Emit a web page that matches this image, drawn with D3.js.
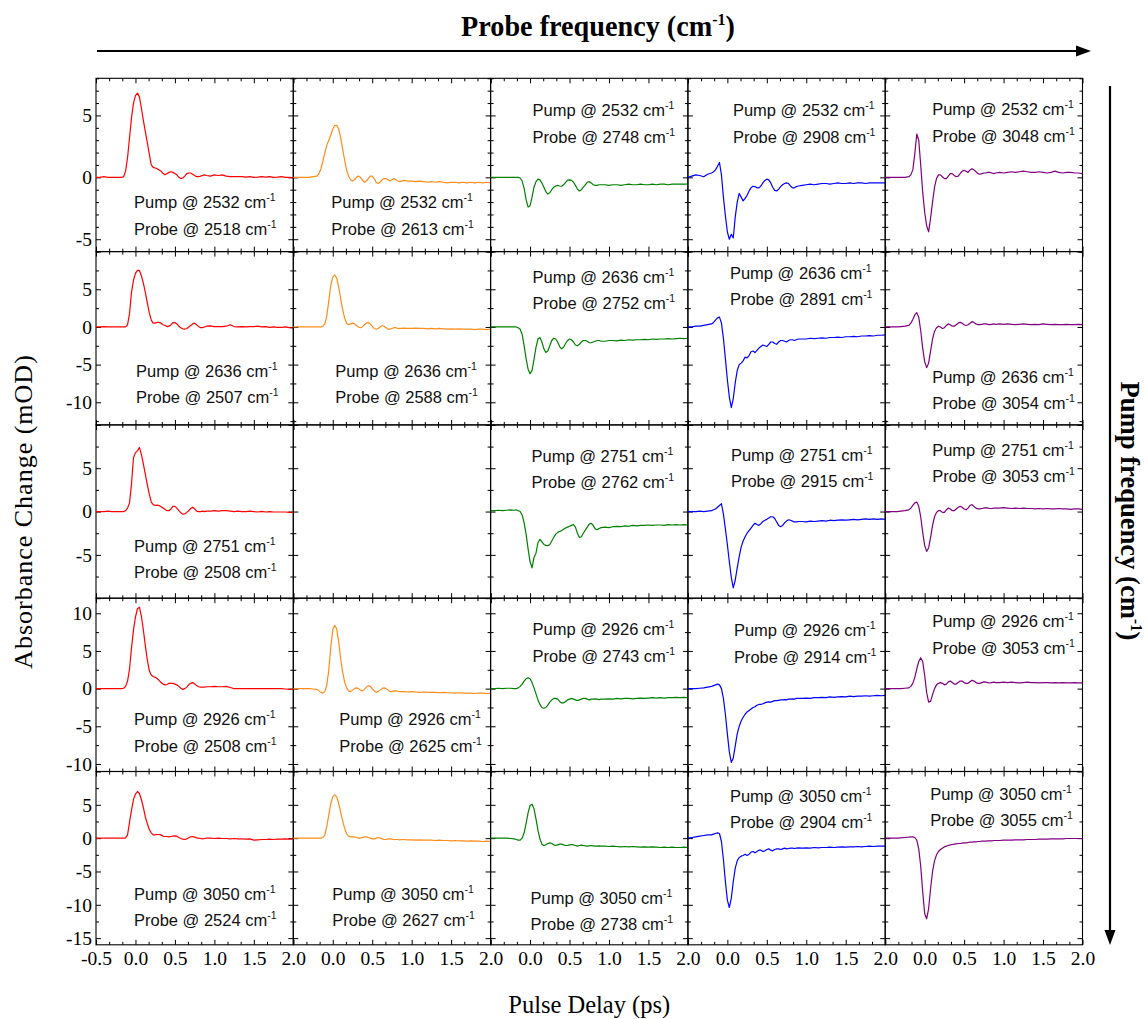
<!DOCTYPE html>
<html>
<head>
<meta charset="utf-8">
<script src="https://cdn.jsdelivr.net/npm/d3@7"></script>
<style>
  html, body { margin: 0; padding: 0; background: #fff; }
  svg { display: block; }
</style>
</head>
<body>
<svg id="chart" width="1148" height="1019"></svg>
<script>
// Pump-probe delay grid (ps), shared by every trace
const delays = [
  -0.5, -0.45, -0.4, -0.35, -0.3, -0.25,
  -0.2, -0.175, -0.15, -0.125, -0.1, -0.075, -0.05, -0.025, 0, 0.025,
  0.05, 0.075, 0.1, 0.125, 0.15, 0.175, 0.2, 0.225, 0.25, 0.275,
  0.3, 0.325, 0.35, 0.375, 0.4, 0.425, 0.45, 0.475, 0.5, 0.525,
  0.55, 0.575, 0.6, 0.625, 0.65, 0.675, 0.7, 0.725, 0.75, 0.775,
  0.8, 0.825, 0.85, 0.875, 0.9,
  0.95, 1, 1.05, 1.1, 1.15, 1.2, 1.25, 1.3, 1.35, 1.4, 1.45,
  1.5, 1.55, 1.6, 1.65, 1.7, 1.75, 1.8, 1.85, 1.9, 1.95, 2
];

// Pump frequency per row, probe frequency per row/column (cm-1)
const pumpFreqs = [2532, 2636, 2751, 2926, 3050];
const probeFreqs = [
  [2518, 2613, 2748, 2908, 3048],
  [2507, 2588, 2752, 2891, 3054],
  [2508, null, 2762, 2915, 3053],
  [2508, 2625, 2743, 2914, 3053],
  [2524, 2627, 2738, 2904, 3055]
];

// Absorbance-change axis extent per row (mOD)
const rowDomains = [[-6, 8], [-13, 10], [-10, 10], [-11, 12], [-16, 10]];
const rowMinorStep = [1, 2.5, 2.5, 2.5, 2.5];
const xTickValues = [-0.5, 0, 0.5, 1, 1.5, 2];

// Absorbance change (mOD) at each delay
const r1c1 = [0, 0, 0.05, 0, 0, 0,
  0, 0, 0.05, 0.5, 1.6, 3.2, 4.8, 6.0, 6.6, 6.8, 6.5, 5.6, 4.6, 3.7, 2.8,
  1.9, 1.0, 0.8, 0.75, 0.7, 0.6, 0.5, 0.3, 0.2, 0.3, 0.4, 0.45, 0.4, 0.3, 0.2,
  0, -0.1, -0.05, 0.1, 0.3, 0.35, 0.35, 0.25, 0.15, 0.05, 0.05, 0.1, 0.15, 0.2, 0.15,
  0.1, 0.2, 0.15, 0.2, 0.1, 0.05, 0.05, 0.05, 0.05, 0.02, 0.05, 0, 0.02, 0.05, 0.02, 0.05, 0, 0.02, 0.05, 0, 0, -0.05];
const r2c1 = [0, 0, 0.05, 0, 0, 0,
  0, 0, 0, 0, 0.3, 1.8, 4.6, 6.2, 7.1, 7.5, 7.5, 6.8, 5.8, 4.6, 3.2,
  1.9, 0.9, 0.5, 0.5, 0.6, 0.6, 0.5, 0.3, 0.2, 0.05, 0.1, 0.3, 0.55, 0.6, 0.4,
  0.1, -0.1, -0.25, -0.3, -0.2, 0, 0.2, 0.4, 0.5, 0.3, 0.05, -0.1, -0.1, 0, 0.1,
  0.15, 0.05, 0.05, 0.05, 0.1, 0.3, 0.05, 0, 0.05, 0, 0.05, 0.05, 0.1, 0, 0.05, -0.05, 0, -0.05, -0.05, 0, -0.1, -0.15];
const r3c1 = [0, 0, 0, 0.05, 0, 0,
  0, 0, 0, 0.1, 0.4, 1.0, 3.2, 6.2, 6.8, 7.0, 7.4, 6.6, 5.5, 4.3, 3.1,
  2.0, 1.1, 0.8, 0.7, 0.75, 0.7, 0.55, 0.4, 0.25, 0.1, 0.1, 0.3, 0.6, 0.6, 0.4,
  0.1, -0.15, -0.3, -0.25, -0.1, 0.1, 0.35, 0.5, 0.3, 0.05, 0, 0, 0.05, 0, 0.05,
  0.05, 0.1, 0.05, 0.1, 0.1, 0.05, 0, 0.05, 0, 0, 0.05, 0, -0.05, 0.02, -0.05, 0, -0.05, -0.05, -0.05, -0.05, -0.1, -0.1];
const r4c1 = [0, 0, 0, 0, 0, 0,
  0, 0, 0.05, 0.3, 1.0, 2.6, 5.4, 7.8, 9.5, 10.6, 10.8, 9.6, 7.8, 5.7, 3.8,
  2.4, 1.8, 1.6, 1.5, 1.35, 1.1, 0.8, 0.6, 0.5, 0.55, 0.7, 0.7, 0.7, 0.6, 0.5,
  0.3, 0.05, -0.1, 0, 0.2, 0.5, 0.7, 0.8, 0.6, 0.4, 0.25, 0.2, 0.2, 0.2, 0.25,
  0.25, 0.3, 0.25, 0.25, 0.3, 0.15, 0, 0, 0, 0, 0, 0, 0, 0, 0, 0, 0, 0, 0, -0.05, -0.1, -0.1];
const r5c1 = [0, 0, 0, 0, 0, 0,
  0, 0, 0, 0.05, 0.5, 2.4, 4.2, 5.8, 6.6, 7.0, 6.7, 5.8, 4.6, 3.2, 2.2,
  1.3, 0.8, 0.5, 0.5, 0.55, 0.55, 0.45, 0.3, 0.25, 0.25, 0.2, 0.25, 0.3, 0.35, 0.3,
  0.1, -0.05, -0.15, -0.2, -0.1, 0.05, 0.2, 0.25, 0.15, 0.05, 0, -0.05, -0.1, -0.05, 0,
  0, -0.05, 0, -0.05, -0.05, -0.1, -0.05, -0.1, -0.1, -0.15, -0.1, -0.3, -0.25, -0.2, -0.2, -0.15, -0.2, -0.15, -0.15, -0.1, -0.15, -0.1];

const r1c2 = [0, 0, 0, 0, 0, 0.05,
  0.1, 0.3, 0.7, 1.3, 2.0, 2.6, 3.0, 3.4, 3.9, 4.2, 4.2, 3.9, 3.2, 2.3, 1.4,
  0.6, 0.1, -0.2, -0.3, -0.2, 0, 0.1, 0, -0.2, -0.4, -0.3, -0.1, 0.1, 0.1, -0.1,
  -0.4, -0.5, -0.4, -0.2, -0.1, -0.1, -0.2, -0.3, -0.2, -0.1, -0.2, -0.3, -0.35, -0.3, -0.25,
  -0.3, -0.3, -0.35, -0.3, -0.35, -0.4, -0.35, -0.4, -0.35, -0.4, -0.45, -0.4, -0.4, -0.45, -0.4, -0.45, -0.4, -0.45, -0.4, -0.45, -0.4, -0.45];
const r2c2 = [0, 0, 0, 0, 0, 0,
  0, 0, 0, 0.1, 0.4, 1.5, 3.5, 5.5, 6.6, 6.9, 6.5, 5.3, 3.8, 2.3, 1.2,
  0.5, 0.3, 0.4, 0.5, 0.4, 0.2, 0, -0.1, 0, 0.3, 0.5, 0.6, 0.4, 0.1, -0.2,
  -0.3, -0.2, 0, 0.2, 0.1, -0.1, -0.3, -0.3, -0.2, -0.1, -0.1, -0.2, -0.2, -0.2, -0.15,
  -0.2, -0.2, -0.15, -0.2, -0.2, -0.25, -0.2, -0.25, -0.2, -0.25, -0.3, -0.25, -0.3, -0.25, -0.3, -0.3, -0.3, -0.35, -0.3, -0.3, -0.35, -0.3];
const r4c2 = [0, 0, 0, 0, 0, -0.05,
  -0.1, -0.3, -0.5, -0.6, -0.4, 0.5, 2.5, 5.5, 7.8, 8.4, 7.9, 6.2, 4.0, 2.2, 0.9,
  0.1, -0.3, -0.4, -0.2, 0, 0.1, 0, -0.2, -0.3, -0.1, 0.2, 0.4, 0.3, 0, -0.3,
  -0.5, -0.4, -0.2, 0, 0.1, 0, -0.2, -0.4, -0.4, -0.3, -0.3, -0.35, -0.4, -0.4, -0.4,
  -0.45, -0.4, -0.45, -0.5, -0.45, -0.5, -0.5, -0.5, -0.55, -0.5, -0.55, -0.55, -0.6, -0.55, -0.6, -0.6, -0.6, -0.65, -0.6, -0.6, -0.65, -0.6];
const r5c2 = [0, 0, 0, 0, 0, 0,
  0, 0, 0, 0.1, 0.5, 1.8, 3.5, 5.2, 6.2, 6.5, 6.2, 5.2, 3.9, 2.6, 1.5,
  0.7, 0.3, 0.2, 0.2, 0.2, 0.1, 0, 0, 0.1, 0.2, 0.2, 0.1, 0, -0.1, -0.1,
  0, 0.1, 0, -0.1, -0.2, -0.2, -0.1, -0.1, -0.15, -0.2, -0.2, -0.2, -0.25, -0.2, -0.2,
  -0.25, -0.25, -0.3, -0.25, -0.3, -0.3, -0.3, -0.35, -0.3, -0.35, -0.35, -0.4, -0.35, -0.4, -0.4, -0.45, -0.4, -0.45, -0.45, -0.5, -0.45, -0.5];

const r1c3 = [0, 0, 0, 0, 0, 0,
  0, 0, 0, -0.05, -0.3, -0.9, -1.8, -2.4, -2.3, -1.6, -0.8, -0.35, -0.15, -0.2, -0.45,
  -0.8, -1.15, -1.35, -1.25, -1.0, -0.8, -0.7, -0.65, -0.7, -0.72, -0.6, -0.4, -0.22, -0.2, -0.25,
  -0.4, -0.65, -0.95, -1.1, -1.0, -0.8, -0.6, -0.4, -0.35, -0.45, -0.6, -0.65, -0.65, -0.6, -0.6,
  -0.6, -0.65, -0.6, -0.6, -0.65, -0.6, -0.55, -0.6, -0.6, -0.55, -0.6, -0.6, -0.55, -0.6, -0.55, -0.55, -0.6, -0.55, -0.55, -0.55, -0.55, -0.55];
const r2c3 = [0, 0, 0, 0, 0, 0,
  0, 0, -0.1, -0.3, -1.0, -2.5, -4.2, -5.6, -6.2, -5.8, -4.3, -2.7, -1.6, -1.4, -2.0,
  -2.9, -3.4, -3.2, -2.5, -1.8, -1.5, -1.6, -2.0, -2.6, -2.9, -2.7, -2.2, -1.8, -1.6, -1.7,
  -2.0, -2.4, -2.5, -2.3, -2.0, -1.8, -1.8, -1.9, -2.1, -2.1, -2.0, -1.9, -1.8, -1.8, -1.9,
  -1.9, -1.8, -1.8, -1.85, -1.75, -1.8, -1.7, -1.75, -1.7, -1.7, -1.65, -1.7, -1.6, -1.65, -1.6, -1.6, -1.55, -1.6, -1.55, -1.5, -1.55, -1.5];
const r3c3 = [0.1, 0.1, 0.15, 0.1, 0.15, 0.2,
  0.15, 0.2, 0.1, 0, -0.4, -1.3, -2.6, -4.3, -5.8, -6.5, -5.3, -4.8, -3.6, -3.2, -3.5,
  -3.8, -3.9, -3.95, -3.8, -3.4, -3.0, -2.6, -2.4, -2.3, -2.2, -2.05, -1.9, -1.8, -1.7, -1.6,
  -1.5, -1.8, -2.5, -3.0, -2.9, -2.5, -2.15, -1.8, -1.45, -1.35, -1.6, -2.0, -2.1, -1.95, -1.85,
  -1.8, -1.85, -1.75, -1.7, -1.75, -1.65, -1.7, -1.6, -1.65, -1.6, -1.6, -1.55, -1.6, -1.55, -1.55, -1.6, -1.5, -1.55, -1.5, -1.55, -1.5, -1.55];
const r4c3 = [0, 0, 0.05, 0, 0.05, 0.05,
  0, 0, 0.1, 0.3, 0.6, 1.0, 1.3, 1.45, 1.3, 0.8, 0.1, -0.7, -1.5, -2.1, -2.5,
  -2.6, -2.5, -2.2, -1.8, -1.5, -1.3, -1.3, -1.4, -1.7, -1.9, -1.9, -1.7, -1.5, -1.4, -1.3,
  -1.4, -1.5, -1.6, -1.5, -1.4, -1.3, -1.3, -1.4, -1.5, -1.4, -1.4, -1.35, -1.4, -1.45, -1.4,
  -1.4, -1.35, -1.4, -1.3, -1.35, -1.3, -1.3, -1.35, -1.3, -1.25, -1.3, -1.25, -1.2, -1.25, -1.2, -1.25, -1.2, -1.2, -1.15, -1.2, -1.15, -1.2];
const r5c3 = [0, 0, 0, 0, 0, -0.05,
  -0.1, -0.2, -0.3, -0.3, 0, 0.8, 2.2, 3.8, 4.9, 5.1, 4.4, 2.9, 1.2, -0.1, -0.9,
  -1.1, -1.0, -0.8, -0.7, -0.8, -1.0, -1.1, -1.0, -0.9, -0.9, -1.0, -1.1, -1.1, -1.0, -0.95,
  -1.0, -1.1, -1.2, -1.1, -1.05, -1.1, -1.15, -1.2, -1.15, -1.1, -1.15, -1.2, -1.2, -1.15, -1.2,
  -1.2, -1.25, -1.2, -1.25, -1.3, -1.25, -1.3, -1.25, -1.3, -1.35, -1.3, -1.35, -1.3, -1.35, -1.4, -1.35, -1.4, -1.35, -1.4, -1.4, -1.35, -1.4];

const r1c4 = [0, 0.1, 0.2, 0.15, 0.05, 0.25,
  0.35, 0.45, 0.6, 0.9, 1.2, 0.2, -1.6, -3.1, -4.4, -5.0, -4.6, -4.9, -3.2, -2.0, -1.3,
  -1.6, -1.9, -1.7, -1.45, -1.1, -0.85, -0.72, -0.75, -0.85, -0.85, -0.7, -0.45, -0.25, -0.15, -0.2,
  -0.45, -0.8, -1.05, -1.1, -0.95, -0.75, -0.6, -0.5, -0.45, -0.5, -0.7, -0.85, -0.85, -0.75, -0.7,
  -0.65, -0.6, -0.55, -0.6, -0.55, -0.5, -0.5, -0.55, -0.5, -0.45, -0.5, -0.5, -0.45, -0.5, -0.45, -0.45, -0.5, -0.45, -0.45, -0.45, -0.45, -0.45];
const r2c4 = [0, 0, 0.1, 0.1, 0.2, 0.3,
  0.4, 0.6, 0.9, 1.2, 1.3, 0.5, -1.5, -4.2, -7.0, -9.3, -10.7, -9.5, -7.4, -5.8, -5.0,
  -4.8, -4.5, -4.0, -4.1, -3.8, -3.3, -3.2, -3.4, -3.1, -2.8, -2.6, -2.4, -2.5, -2.6, -2.3,
  -2.0, -2.0, -2.2, -2.3, -2.0, -1.8, -1.8, -1.9, -2.0, -1.8, -1.7, -1.7, -1.8, -1.7, -1.6,
  -1.6, -1.6, -1.5, -1.55, -1.5, -1.45, -1.5, -1.4, -1.4, -1.35, -1.4, -1.3, -1.3, -1.25, -1.3, -1.2, -1.2, -1.15, -1.2, -1.1, -1.1, -1.05];
const r3c4 = [0, 0, 0, 0.05, 0, 0.05,
  0.1, 0.2, 0.3, 0.5, 0.7, 0.9, -0.3, -2.0, -3.8, -5.8, -7.6, -8.8, -7.9, -6.5, -5.2,
  -4.1, -3.4, -2.9, -2.5, -2.2, -1.9, -1.6, -1.35, -1.5, -1.6, -1.4, -1.15, -1.0, -0.9, -0.75,
  -0.6, -0.6, -0.8, -1.2, -1.6, -1.75, -1.6, -1.3, -1.1, -0.95, -1.0, -1.1, -1.2, -1.2, -1.15,
  -1.15, -1.2, -1.1, -1.15, -1.1, -1.05, -1.1, -1.0, -1.05, -1.0, -0.95, -1.0, -0.95, -0.9, -0.95, -0.9, -0.85, -0.9, -0.85, -0.9, -0.85, -0.9];
const r4c4 = [0, 0, 0, 0.05, 0.1, 0.2,
  0.3, 0.4, 0.5, 0.6, 0.5, 0, -1.3, -3.4, -6.0, -8.4, -9.8, -9.2, -7.6, -6.0, -5.0,
  -4.3, -3.8, -3.4, -3.1, -2.9, -2.7, -2.5, -2.4, -2.2, -2.1, -2.1, -2.0, -1.9, -1.8, -1.75,
  -1.8, -1.7, -1.6, -1.6, -1.55, -1.5, -1.5, -1.45, -1.5, -1.4, -1.4, -1.35, -1.4, -1.3, -1.3,
  -1.3, -1.25, -1.3, -1.2, -1.2, -1.15, -1.2, -1.1, -1.15, -1.1, -1.05, -1.1, -1.0, -1.05, -1.0, -1.0, -0.95, -1.0, -0.95, -0.9, -0.95, -0.9];
const r5c4 = [0, 0.1, 0.2, 0.3, 0.4, 0.5,
  0.5, 0.6, 0.7, 0.8, 0.7, -0.5, -3.2, -6.5, -9.3, -10.4, -9.0, -6.5, -4.5, -3.4, -2.9,
  -2.7, -2.6, -2.4, -2.6, -2.4, -2.1, -2.0, -2.2, -2.0, -1.8, -1.8, -2.0, -1.9, -1.7, -1.6,
  -1.8, -1.9, -1.7, -1.6, -1.6, -1.7, -1.6, -1.5, -1.6, -1.55, -1.5, -1.5, -1.55, -1.5, -1.45,
  -1.5, -1.45, -1.5, -1.4, -1.45, -1.4, -1.4, -1.35, -1.4, -1.35, -1.3, -1.35, -1.3, -1.3, -1.25, -1.3, -1.25, -1.2, -1.25, -1.2, -1.2, -1.2];

const r1c5 = [0, 0, 0, 0, 0, 0,
  0.05, 0.2, 0.6, 1.9, 3.5, 3.0, 1.0, -1.2, -2.8, -3.9, -4.4, -3.3, -2.0, -0.8, -0.1,
  0.2, 0.2, 0.05, -0.1, -0.1, 0.1, 0.3, 0.3, 0.15, 0.05, 0.1, 0.3, 0.5, 0.55, 0.5,
  0.4, 0.6, 0.7, 0.6, 0.45, 0.3, 0.25, 0.3, 0.35, 0.35, 0.4, 0.4, 0.35, 0.3, 0.35,
  0.4, 0.35, 0.4, 0.45, 0.4, 0.45, 0.5, 0.45, 0.4, 0.4, 0.45, 0.4, 0.35, 0.4, 0.5, 0.4, 0.35, 0.4, 0.4, 0.35, 0.35, 0.3];
const r2c5 = [0, 0, 0, 0, 0.05, 0.1,
  0.2, 0.5, 1.0, 1.6, 1.9, 1.3, -0.5, -2.8, -4.6, -5.4, -4.8, -3.2, -1.6, -0.6, -0.1,
  0.1, 0, -0.2, -0.1, 0.2, 0.4, 0.3, 0.1, 0.1, 0.3, 0.5, 0.6, 0.5, 0.3, 0.2,
  0.3, 0.5, 0.7, 0.6, 0.4, 0.3, 0.3, 0.35, 0.4, 0.4, 0.35, 0.3, 0.35, 0.4, 0.35,
  0.4, 0.35, 0.4, 0.35, 0.3, 0.35, 0.4, 0.35, 0.3, 0.35, 0.3, 0.4, 0.35, 0.3, 0.35, 0.3, 0.3, 0.35, 0.3, 0.3, 0.35, 0.3];
const r3c5 = [0, 0, 0, 0, 0.05, 0.1,
  0.2, 0.4, 0.7, 1.0, 1.1, 0.6, -0.6, -2.4, -3.9, -4.6, -4.2, -3.0, -1.6, -0.6, -0.1,
  0.1, 0.1, -0.1, -0.1, 0.2, 0.4, 0.3, 0.1, 0.1, 0.3, 0.5, 0.6, 0.5, 0.3, 0.2,
  0.4, 0.7, 0.8, 0.6, 0.4, 0.3, 0.3, 0.35, 0.4, 0.45, 0.4, 0.35, 0.35, 0.4, 0.4,
  0.4, 0.45, 0.4, 0.35, 0.4, 0.35, 0.4, 0.35, 0.35, 0.3, 0.35, 0.3, 0.35, 0.3, 0.3, 0.35, 0.3, 0.3, 0.25, 0.3, 0.3, 0.25];
const r4c5 = [0, 0, 0, 0, 0, 0.05,
  0.1, 0.3, 0.7, 1.5, 2.6, 3.6, 4.1, 3.6, 1.8, -0.5, -1.8, -1.7, -0.8, 0, 0.5,
  0.7, 0.8, 0.7, 0.5, 0.6, 0.9, 1.0, 0.8, 0.6, 0.6, 0.8, 1.0, 1.0, 0.8, 0.7,
  0.7, 0.9, 1.1, 1.0, 0.8, 0.7, 0.7, 0.8, 0.9, 0.85, 0.8, 0.75, 0.8, 0.85, 0.8,
  0.8, 0.85, 0.8, 0.85, 0.8, 0.75, 0.8, 0.85, 0.8, 0.8, 0.75, 0.8, 0.8, 0.75, 0.8, 0.75, 0.8, 0.75, 0.75, 0.8, 0.75, 0.75];
const r5c5 = [0, 0, 0, 0, 0.05, 0.1,
  0.15, 0.2, 0.2, 0.1, -0.3, -1.6, -4.2, -8.0, -11.3, -12.1, -10.6, -7.6, -5.0, -3.4, -2.5,
  -2.0, -1.7, -1.5, -1.3, -1.2, -1.1, -1.0, -0.95, -0.9, -0.85, -0.8, -0.8, -0.75, -0.7, -0.7,
  -0.65, -0.6, -0.6, -0.55, -0.55, -0.5, -0.5, -0.45, -0.45, -0.45, -0.4, -0.4, -0.4, -0.35, -0.35,
  -0.35, -0.3, -0.3, -0.3, -0.25, -0.25, -0.25, -0.2, -0.2, -0.2, -0.15, -0.15, -0.15, -0.1, -0.1, -0.1, -0.1, -0.05, -0.05, -0.05, -0.05, -0.05];

// Grid of traces: rows follow the pump frequency, columns the probe frequency
const signals = [
  [r1c1, r1c2, r1c3, r1c4, r1c5],
  [r2c1, r2c2, r2c3, r2c4, r2c5],
  [r3c1, null, r3c3, r3c4, r3c5],
  [r4c1, r4c2, r4c3, r4c4, r4c5],
  [r5c1, r5c2, r5c3, r5c4, r5c5]
];

// Trace colour per probe column
const columnColors = ["#ff0000", "#ff8c1a", "#008000", "#0000ff", "#800080"];

// Placement of the two-line annotation inside each panel: [dx, baseline of first line]
const notePlacement = [
  [[38, 130], [38, 130], [42, 38], [45, 38], [47, 37]],
  [[40, 125], [42, 125], [42, 31], [42, 27], [47, 131]],
  [[38, 127], null, [41, 37], [43, 36], [47, 31]],
  [[38, 127], [46, 127], [42, 37], [46, 38], [47, 29]],
  [[38, 128], [39, 128], [40, 132], [42, 30], [45, 28]]
];

const svg = d3.select("#chart");
const grid = { left: 96, top: 78.3, colW: 197.3, rowH: 173.3, rows: 5, cols: 5 };
const serif = "'Liberation Serif','Times New Roman',serif";
const sans = "'Liberation Sans',Arial,sans-serif";
// tick labels use a plain hyphen for negative numbers
const fmtDelay = v => d3.format(".1f")(v).replace("\u2212", "-");

function xMinorTicks() {
  const out = [];
  for (let i = 0; i <= 15; i++) {
    const v = -0.5 + i * (0.5 / 3);
    if (i % 3 !== 0) out.push(v);
  }
  return out;
}

function yTicks(domain, step) {
  const lo = Math.ceil(domain[0] / step - 1e-9) * step;
  const out = [];
  for (let v = lo; v <= domain[1] + 1e-9; v += step) out.push(+v.toFixed(4));
  return out;
}

function styleAxis(g) {
  g.select(".domain").remove();
  g.selectAll(".tick line").attr("stroke", "#000").attr("stroke-width", 1);
  g.selectAll(".tick text").attr("fill", "#000").style("font-family", serif).style("font-size", "19.5px");
}

for (let r = 0; r < grid.rows; r++) {
  for (let c = 0; c < grid.cols; c++) {
    const x0 = grid.left + c * grid.colW;
    const y0 = grid.top + r * grid.rowH;
    const x = d3.scaleLinear().domain([-0.5, 2]).range([x0, x0 + grid.colW]);
    const y = d3.scaleLinear().domain(rowDomains[r]).range([y0 + grid.rowH, y0]);
    const panel = svg.append("g").attr("class", `panel r${r} c${c}`);

    const yMajor = yTicks(rowDomains[r], 5);
    const yMinor = yTicks(rowDomains[r], rowMinorStep[r]).filter(v => yMajor.indexOf(v) < 0);
    const xMinor = xMinorTicks();

    // bottom axis
    panel.append("g").attr("transform", `translate(0,${y0 + grid.rowH})`)
      .call(d3.axisBottom(x).tickValues(xTickValues).tickSizeInner(-5).tickSizeOuter(0).tickPadding(6)
        .tickFormat(v => (r === grid.rows - 1 && (c === 0 || v > -0.5)) ? fmtDelay(v) : ""))
      .call(styleAxis);
    panel.append("g").attr("transform", `translate(0,${y0 + grid.rowH})`)
      .call(d3.axisBottom(x).tickValues(xMinor).tickSizeInner(-3).tickSizeOuter(0).tickFormat(""))
      .call(styleAxis);
    // top axis
    panel.append("g").attr("transform", `translate(0,${y0})`)
      .call(d3.axisTop(x).tickValues(xTickValues).tickSizeInner(-5).tickSizeOuter(0).tickFormat(""))
      .call(styleAxis);
    panel.append("g").attr("transform", `translate(0,${y0})`)
      .call(d3.axisTop(x).tickValues(xMinor).tickSizeInner(-3).tickSizeOuter(0).tickFormat(""))
      .call(styleAxis);
    // left axis
    panel.append("g").attr("transform", `translate(${x0},0)`)
      .call(d3.axisLeft(y).tickValues(yMajor).tickSizeInner(-5).tickSizeOuter(0).tickPadding(4)
        .tickFormat(v => (c === 0 && v > rowDomains[r][0] && v < rowDomains[r][1]) ? String(v) : ""))
      .call(styleAxis);
    panel.append("g").attr("transform", `translate(${x0},0)`)
      .call(d3.axisLeft(y).tickValues(yMinor).tickSizeInner(-3).tickSizeOuter(0).tickFormat(""))
      .call(styleAxis);
    // right axis
    panel.append("g").attr("transform", `translate(${x0 + grid.colW},0)`)
      .call(d3.axisRight(y).tickValues(yMajor).tickSizeInner(-5).tickSizeOuter(0).tickFormat(""))
      .call(styleAxis);
    panel.append("g").attr("transform", `translate(${x0 + grid.colW},0)`)
      .call(d3.axisRight(y).tickValues(yMinor).tickSizeInner(-3).tickSizeOuter(0).tickFormat(""))
      .call(styleAxis);

    panel.append("rect")
      .attr("x", x0).attr("y", y0).attr("width", grid.colW).attr("height", grid.rowH)
      .attr("fill", "none").attr("stroke", "#000").attr("stroke-width", 1.1);

    const trace = signals[r][c];
    if (!trace) continue;
    const pts = delays.map((t, i) => [t, trace[i]]).filter(p => p[1] != null);
    panel.append("path")
      .datum(pts)
      .attr("fill", "none")
      .attr("stroke", columnColors[c])
      .attr("stroke-width", 1.2)
      .attr("stroke-linejoin", "round")
      .attr("d", d3.line().x(p => x(p[0])).y(p => y(p[1])));

    const spot = notePlacement[r][c];
    const lines = [["Pump", pumpFreqs[r]], ["Probe", probeFreqs[r][c]]];
    lines.forEach((ln, k) => {
      const t = panel.append("text")
        .attr("x", x0 + spot[0])
        .attr("y", y0 + spot[1] + k * 26.5)
        .style("font-family", sans)
        .style("font-size", "16.5px")
        .attr("fill", "#111");
      t.append("tspan").text(`${ln[0]} @ ${ln[1]} cm`);
      t.append("tspan").attr("dy", -7).style("font-size", "10.5px").text("-1");
    });
  }
}

// Axis titles
svg.append("text")
  .attr("transform", `translate(32,${grid.top + grid.rows * grid.rowH / 2}) rotate(-90)`)
  .attr("text-anchor", "middle")
  .style("font-family", serif).style("font-size", "26px").style("letter-spacing", "1px")
  .text("Absorbance Change (mOD)");

svg.append("text")
  .attr("x", grid.left + grid.cols * grid.colW / 2).attr("y", 1013)
  .attr("text-anchor", "middle")
  .style("font-family", serif).style("font-size", "24.5px")
  .text("Pulse Delay (ps)");

// Probe-frequency direction (top) and pump-frequency direction (right)
const probeTitle = svg.append("text")
  .attr("transform", "translate(598,36) scale(0.94,1)")
  .attr("text-anchor", "middle")
  .style("font-family", serif).style("font-size", "30px").style("font-weight", "bold");
probeTitle.append("tspan").text("Probe frequency (cm");
probeTitle.append("tspan").attr("dy", -11).style("font-size", "17px").text("-1");
probeTitle.append("tspan").attr("dy", 11).text(")");

svg.append("line").attr("x1", 97).attr("y1", 51).attr("x2", 1078).attr("y2", 51)
  .attr("stroke", "#000").attr("stroke-width", 2.2);
svg.append("path").attr("d", "M1076,45.5 L1091,51 L1076,56.5 Z").attr("fill", "#000");

const pumpTitle = svg.append("text")
  .attr("transform", "translate(1121,511) rotate(90) scale(0.95,1)")
  .attr("text-anchor", "middle")
  .style("font-family", serif).style("font-size", "28px").style("font-weight", "bold");
pumpTitle.append("tspan").text("Pump frequency (cm");
pumpTitle.append("tspan").attr("dy", -10).style("font-size", "16px").text("-1");
pumpTitle.append("tspan").attr("dy", 10).text(")");

svg.append("line").attr("x1", 1110).attr("y1", 86).attr("x2", 1110).attr("y2", 932)
  .attr("stroke", "#000").attr("stroke-width", 2.2);
svg.append("path").attr("d", "M1104.5,930 L1110,945 L1115.5,930 Z").attr("fill", "#000");
</script>
</body>
</html>
